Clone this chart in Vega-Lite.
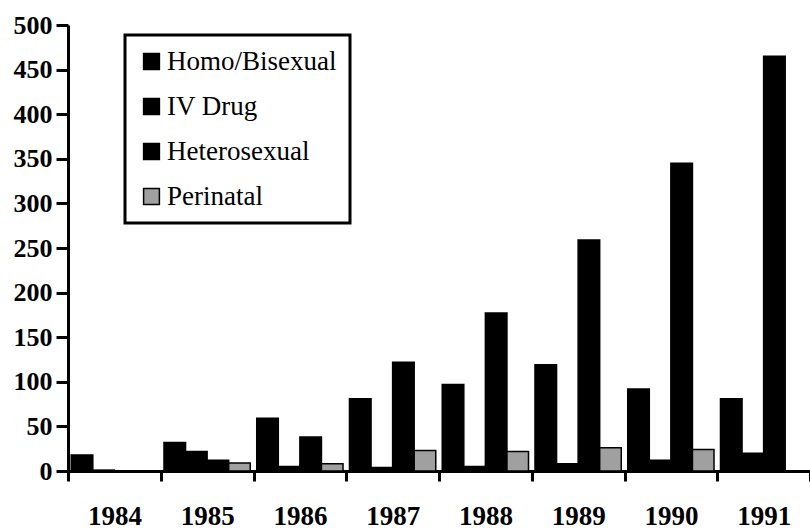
{
  "$schema": "https://vega.github.io/schema/vega-lite/v6.json",
  "width": 742,
  "height": 446,
  "autosize": {"type": "none"},
  "padding": {"left": 68, "top": 25, "right": 0, "bottom": 60},
  "background": "white",
  "config": {
    "view": {"stroke": null},
    "font": "Liberation Serif"
  },
  "data": {
    "values": [
      {"year": "1984", "group": "Homo/Bisexual", "cases": 18},
      {"year": "1984", "group": "IV Drug", "cases": 1},
      {"year": "1984", "group": "Heterosexual", "cases": 0},
      {"year": "1984", "group": "Perinatal", "cases": 0},
      {"year": "1985", "group": "Homo/Bisexual", "cases": 32},
      {"year": "1985", "group": "IV Drug", "cases": 22},
      {"year": "1985", "group": "Heterosexual", "cases": 12},
      {"year": "1985", "group": "Perinatal", "cases": 9},
      {"year": "1986", "group": "Homo/Bisexual", "cases": 59},
      {"year": "1986", "group": "IV Drug", "cases": 5},
      {"year": "1986", "group": "Heterosexual", "cases": 38},
      {"year": "1986", "group": "Perinatal", "cases": 8},
      {"year": "1987", "group": "Homo/Bisexual", "cases": 81},
      {"year": "1987", "group": "IV Drug", "cases": 4},
      {"year": "1987", "group": "Heterosexual", "cases": 122},
      {"year": "1987", "group": "Perinatal", "cases": 23},
      {"year": "1988", "group": "Homo/Bisexual", "cases": 97},
      {"year": "1988", "group": "IV Drug", "cases": 5},
      {"year": "1988", "group": "Heterosexual", "cases": 177},
      {"year": "1988", "group": "Perinatal", "cases": 22},
      {"year": "1989", "group": "Homo/Bisexual", "cases": 119},
      {"year": "1989", "group": "IV Drug", "cases": 8},
      {"year": "1989", "group": "Heterosexual", "cases": 259},
      {"year": "1989", "group": "Perinatal", "cases": 26},
      {"year": "1990", "group": "Homo/Bisexual", "cases": 92},
      {"year": "1990", "group": "IV Drug", "cases": 12},
      {"year": "1990", "group": "Heterosexual", "cases": 345},
      {"year": "1990", "group": "Perinatal", "cases": 24},
      {"year": "1991", "group": "Homo/Bisexual", "cases": 81},
      {"year": "1991", "group": "IV Drug", "cases": 20},
      {"year": "1991", "group": "Heterosexual", "cases": 465},
      {"year": "1991", "group": "Perinatal", "cases": 0}
    ]
  },
  "mark": {"type": "bar", "stroke": "black", "strokeWidth": 1.5},
  "encoding": {
    "x": {
      "field": "year",
      "type": "nominal",
      "scale": {"paddingInner": 0, "paddingOuter": 0},
      "axis": {
        "title": null,
        "labelAngle": 0,
        "tickBand": "extent",
        "domainColor": "black",
        "domainWidth": 3,
        "tickColor": "black",
        "tickWidth": 3,
        "tickSize": 10,
        "labelPadding": 22,
        "labelFontSize": 27,
        "labelFontWeight": "bold",
        "labelColor": "black"
      }
    },
    "xOffset": {
      "field": "group",
      "type": "nominal",
      "sort": ["Homo/Bisexual", "IV Drug", "Heterosexual", "Perinatal"],
      "scale": {"paddingInner": 0, "paddingOuter": 0.15}
    },
    "y": {
      "field": "cases",
      "type": "quantitative",
      "scale": {"domain": [0, 500], "nice": false},
      "axis": {
        "title": null,
        "values": [0, 50, 100, 150, 200, 250, 300, 350, 400, 450, 500],
        "grid": false,
        "domainColor": "black",
        "domainWidth": 3,
        "tickColor": "black",
        "tickWidth": 3,
        "tickSize": 12,
        "labelPadding": 4,
        "labelFontSize": 26,
        "labelFontWeight": "bold",
        "labelColor": "black"
      }
    },
    "fill": {
      "field": "group",
      "type": "nominal",
      "sort": ["Homo/Bisexual", "IV Drug", "Heterosexual", "Perinatal"],
      "scale": {
        "domain": ["Homo/Bisexual", "IV Drug", "Heterosexual", "Perinatal"],
        "range": ["black", "black", "black", "#a0a0a0"]
      },
      "legend": {
        "title": null,
        "orient": "none",
        "legendX": 57,
        "legendY": 10,
        "direction": "vertical",
        "symbolType": "square",
        "symbolSize": 250,
        "symbolStrokeColor": "black",
        "symbolStrokeWidth": 1.5,
        "symbolOpacity": 1,
        "labelFontSize": 27,
        "labelOffset": 2,
        "labelColor": "black",
        "labelLimit": 400,
        "rowPadding": 17,
        "padding": 13,
        "strokeColor": "black",
        "fillColor": "white",
        "encode": {"legend": {"update": {"strokeWidth": {"value": 3}}}}
      }
    }
  }
}
